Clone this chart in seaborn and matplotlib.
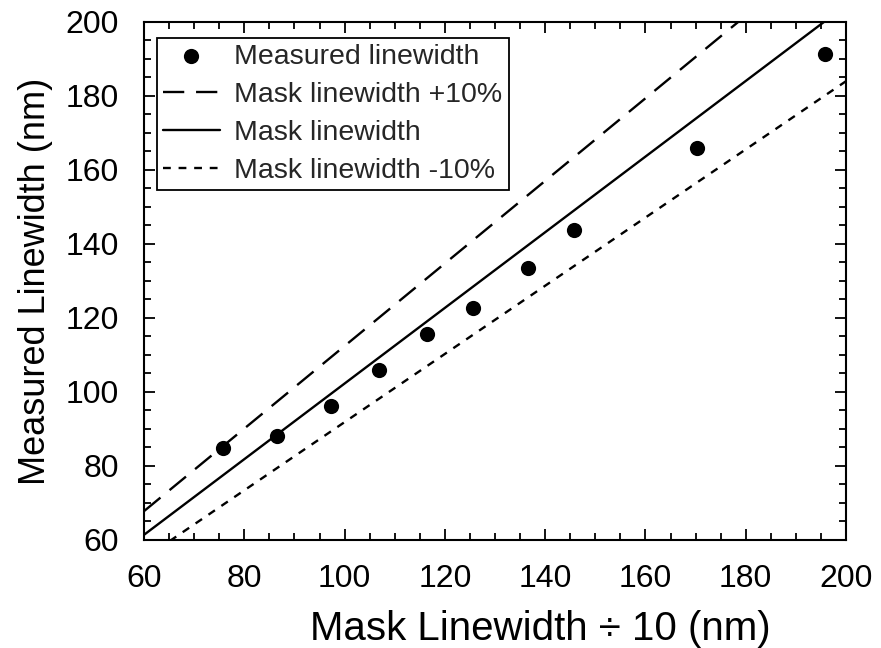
import matplotlib
matplotlib.use("Agg")
import matplotlib.pyplot as plt
import seaborn as sns
import pandas as pd
from matplotlib.ticker import MultipleLocator

# Data
mask_lw = [75.8, 86.5, 97.3, 106.9, 116.4, 125.6, 136.6, 145.8, 170.3, 195.8]
measured_lw = [84.9, 88.1, 96.2, 105.9, 115.7, 122.7, 133.5, 143.8, 166.0, 191.4]
ref_x = [60, 200]
ref_plus10 = [67.8, 224.0]
ref_exact = [61.4, 204.5]
ref_minus10 = [55.0, 184.0]

sns.set_theme(style="ticks")
plt.rcParams['font.family'] = ['Liberation Sans', 'DejaVu Sans']

fig = plt.figure(figsize=(8.81, 6.48), dpi=100)
ax = fig.add_axes([0.1635, 0.1667, 0.7968, 0.7994])

pts = pd.DataFrame({"x": mask_lw, "y": measured_lw})
sns.scatterplot(data=pts, x="x", y="y", ax=ax, color="black", s=120,
                edgecolor="black", linewidth=0, label="Measured linewidth", zorder=5)
sns.lineplot(x=ref_x, y=ref_plus10, ax=ax, color="black", lw=1.7,
             label="Mask linewidth +10%").lines[-1].set_dashes([9, 5])
sns.lineplot(x=ref_x, y=ref_exact, ax=ax, color="black", lw=1.7,
             label="Mask linewidth")
sns.lineplot(x=ref_x, y=ref_minus10, ax=ax, color="black", lw=1.7,
             label="Mask linewidth -10%").lines[-1].set_dashes([3.3, 3.3])

ax.set_xlim(60, 200)
ax.set_ylim(60, 200)
ax.xaxis.set_major_locator(MultipleLocator(20))
ax.xaxis.set_minor_locator(MultipleLocator(5))
ax.yaxis.set_major_locator(MultipleLocator(20))
ax.yaxis.set_minor_locator(MultipleLocator(5))
ax.tick_params(which="both", direction="in", top=True, right=True,
               color="black", width=1.3)
ax.tick_params(which="major", length=8, labelsize=23, labelcolor="black")
ax.tick_params(which="minor", length=5)
ax.tick_params(axis="x", which="major", pad=17)
ax.tick_params(axis="y", which="major", pad=18)
for sp in ax.spines.values():
    sp.set_visible(True)
    sp.set_color("black")
    sp.set_linewidth(1.5)

ax.set_xlabel("Mask Linewidth \u00f7 10 (nm)", fontsize=29, color="black")
ax.xaxis.set_label_coords(0.564, -0.135)
ax.set_ylabel("Measured Linewidth (nm)", fontsize=26, color="black")
ax.yaxis.set_label_coords(-0.13, 0.5)

leg = ax.legend(loc="upper left", fontsize=20.5, frameon=True, fancybox=False,
                edgecolor="black", framealpha=1, handlelength=2.0,
                borderpad=0.22, labelspacing=0.42, handletextpad=0.5,
                borderaxespad=0, bbox_to_anchor=(0.018, 0.97))
leg.get_frame().set_linewidth(1.3)

fig.savefig("out.png", dpi=100)
